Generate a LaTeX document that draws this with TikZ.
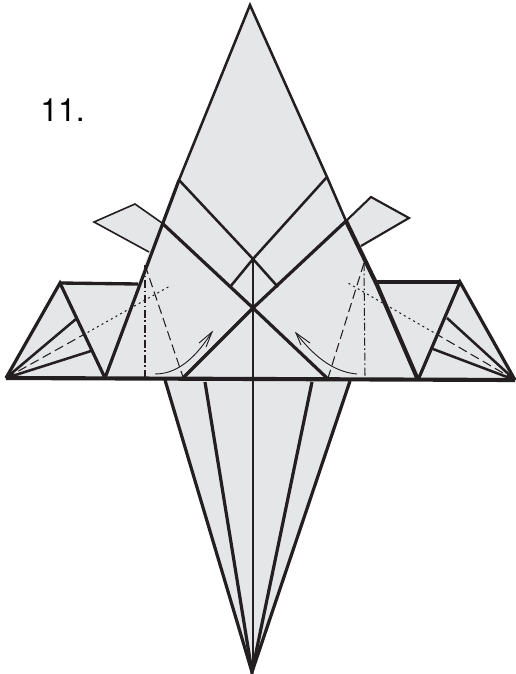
\documentclass[tikz,border=0pt]{standalone}
\usepackage{fontspec}
\setmainfont{TeX Gyre Heros}
\usetikzlibrary{calc, positioning}
\definecolor{paper}{HTML}{E5E6E8}
\definecolor{ink}{HTML}{231F20}
\begin{document}
\begin{tikzpicture}[x=0.75pt, y=-0.75pt,
    fold/.style={draw=ink, line width=1.9pt},
    bold fold/.style={draw=ink, line width=2.4pt},
    heavy/.style={draw=ink, line width=3.1pt},
    thin fold/.style={draw=ink, line width=1.2pt},
    valley/.style={draw=ink, line width=0.8pt, dash pattern=on 7pt off 3.5pt},
    hidden/.style={draw=ink, line width=0.8pt, dash pattern=on 1.5pt off 2.5pt},
    mountain/.style={draw=ink, line width=0.8pt, dash pattern=on 6pt off 2pt on 1.2pt off 2pt},
    curl/.style={draw=ink, line width=0.7pt}]
  \useasboundingbox (0,0) rectangle (515,674);
  % paper
  \fill[paper] (250,5) -- (327,177) -- (346,221) -- (371,197) -- (409,218) -- (361,246)
    -- (377,282) -- (460,282) -- (515,380) -- (350,380) -- (252,672) -- (165,379)
    -- (6,378) -- (60,283) -- (138,284) -- (149,252) -- (94,222) -- (135,204) -- (162,223)
    -- (179,180) -- cycle;
  % flaps
  \draw[thin fold] (162,223) -- (135,204) -- (94,222) -- (149,252);
  \draw[fold, line width=1.6pt] (346,221) -- (371,197) -- (409,218) -- (361,246);
  % body outline
  \draw[bold fold] (105,378) -- (179,180);
  \draw[fold] (179,180) -- (250,5) -- (327,177) -- (346,221);
  \draw[heavy] (346,221) -- (377,285) -- (418,380);
  % centre folds
  \draw[fold] (179,180) -- (253,259) -- (327,177);
  \draw[bold fold] (162,223) -- (253,308) -- (328,379);
  \draw[bold fold] (346,221) -- (253,308) -- (183,378);
  \draw[fold] (230,287) -- (253,259) -- (278,287);
  \draw[fold] (253,259) -- (253,672);
  % left wing
  \draw[bold fold] (6,378) -- (60,283) -- (105,378);
  \draw[heavy, line width=2.5pt] (60,283) -- (138,284);
  \draw[fold] (6,378) -- (76,319);
  \draw[fold] (6,378) -- (91,351);
  % right wing
  \draw[bold fold] (515,380) -- (460,282) -- (418,380);
  \draw[heavy, line width=2.5pt] (377,282) -- (460,282);
  \draw[fold] (515,380) -- (447,318);
  \draw[fold] (515,380) -- (433,349);
  % lower point
  \draw[bold fold] (165,380) -- (252,672) -- (350,381);
  \draw[bold fold] (205,382) -- (252,672) -- (312,382);
  % base line
  \draw[heavy] (6,378) -- (515,380);
  % left creases
  \draw[valley] (6,378) -- (83,335);
  \draw[hidden] (83,335) -- (170,286);
  \draw[mountain] (145,265) -- (145,377);
  \draw[valley] (145,265) -- (183,377);
  % right creases
  \draw[valley] (515,380) -- (438,335);
  \draw[hidden] (438,335) -- (348,283);
  \draw[mountain] (364,263) -- (365,378);
  \draw[valley] (364,263) -- (328,378);
  % arrows
  \draw[curl] (155,374) .. controls (180,374) and (198,354) .. (212,332);
  \draw[curl] (199,343) -- (212,332) -- (206,347);
  \draw[curl] (357,374) .. controls (332,372) and (312,354) .. (296,333);
  \draw[curl] (310,343) -- (296,333) -- (301,345);
  \node[anchor=base west, inner sep=0pt, font=\fontsize{24}{28}\selectfont] (steplabel) at (40,121) {11.};
\end{tikzpicture}
\end{document}
